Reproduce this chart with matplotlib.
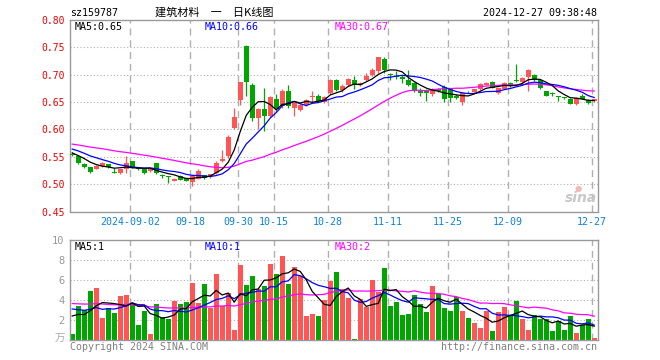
import numpy as np
import matplotlib
matplotlib.use('Agg')
import matplotlib.pyplot as plt

# ---------------- data ----------------
open_ = [0.556, 0.551, 0.536, 0.531, 0.528, 0.533, 0.536, 0.522, 0.520, 0.527,
         0.542, 0.530, 0.528, 0.524, 0.538, 0.516, 0.514, 0.506, 0.515, 0.511,
         0.504, 0.510, 0.516, 0.514, 0.521, 0.543, 0.551, 0.603, 0.653, 0.753,
         0.682, 0.621, 0.638, 0.625, 0.655, 0.642, 0.670, 0.639, 0.636, 0.644,
         0.659, 0.662, 0.651, 0.667, 0.690, 0.672, 0.682, 0.690, 0.681, 0.691,
         0.700, 0.706, 0.729, 0.701, 0.698, 0.695, 0.691, 0.685, 0.671, 0.671,
         0.664, 0.673, 0.678, 0.673, 0.662, 0.650, 0.669, 0.669, 0.673, 0.682,
         0.687, 0.667, 0.674, 0.684, 0.690, 0.686, 0.695, 0.700, 0.690, 0.670,
         0.666, 0.660, 0.659, 0.656, 0.647, 0.662, 0.654, 0.652]
high = [0.558, 0.552, 0.538, 0.532, 0.535, 0.540, 0.537, 0.530, 0.528, 0.552,
        0.543, 0.532, 0.529, 0.528, 0.539, 0.518, 0.515, 0.511, 0.516, 0.512,
        0.516, 0.527, 0.517, 0.519, 0.542, 0.562, 0.590, 0.640, 0.687, 0.754,
        0.685, 0.640, 0.676, 0.662, 0.664, 0.673, 0.682, 0.652, 0.646, 0.655,
        0.670, 0.664, 0.661, 0.692, 0.693, 0.683, 0.694, 0.697, 0.686, 0.703,
        0.712, 0.733, 0.733, 0.704, 0.706, 0.700, 0.709, 0.687, 0.676, 0.673,
        0.676, 0.675, 0.682, 0.675, 0.664, 0.668, 0.671, 0.674, 0.684, 0.686,
        0.689, 0.676, 0.686, 0.686, 0.720, 0.696, 0.711, 0.701, 0.691, 0.671,
        0.668, 0.661, 0.660, 0.657, 0.659, 0.664, 0.655, 0.656]
low = [0.551, 0.536, 0.529, 0.521, 0.527, 0.532, 0.529, 0.521, 0.518, 0.521,
       0.530, 0.525, 0.519, 0.523, 0.519, 0.512, 0.503, 0.505, 0.507, 0.505,
       0.497, 0.509, 0.509, 0.512, 0.519, 0.540, 0.548, 0.600, 0.645, 0.661,
       0.616, 0.600, 0.598, 0.623, 0.633, 0.640, 0.640, 0.624, 0.634, 0.642,
       0.651, 0.650, 0.649, 0.665, 0.670, 0.669, 0.680, 0.673, 0.679, 0.688,
       0.697, 0.704, 0.704, 0.691, 0.692, 0.685, 0.680, 0.668, 0.661, 0.652,
       0.662, 0.669, 0.650, 0.650, 0.656, 0.645, 0.666, 0.668, 0.672, 0.681,
       0.675, 0.665, 0.673, 0.677, 0.687, 0.684, 0.670, 0.689, 0.674, 0.661,
       0.662, 0.652, 0.655, 0.646, 0.645, 0.655, 0.646, 0.651]
close = [0.553, 0.538, 0.532, 0.523, 0.533, 0.538, 0.531, 0.521, 0.527, 0.539,
         0.532, 0.527, 0.521, 0.527, 0.520, 0.515, 0.513, 0.510, 0.508, 0.506,
         0.514, 0.524, 0.511, 0.518, 0.538, 0.546, 0.587, 0.623, 0.686, 0.686,
         0.620, 0.638, 0.625, 0.659, 0.637, 0.670, 0.642, 0.648, 0.644, 0.653,
         0.661, 0.652, 0.659, 0.690, 0.672, 0.680, 0.692, 0.681, 0.684, 0.697,
         0.708, 0.732, 0.708, 0.699, 0.695, 0.692, 0.682, 0.670, 0.667, 0.667,
         0.674, 0.671, 0.655, 0.658, 0.658, 0.667, 0.668, 0.673, 0.683, 0.685,
         0.676, 0.675, 0.684, 0.679, 0.688, 0.694, 0.709, 0.690, 0.676, 0.662,
         0.665, 0.659, 0.657, 0.647, 0.658, 0.656, 0.648, 0.655]
volume = [0.6, 3.4, 3.0, 4.9, 5.2, 2.2, 3.2, 2.7, 4.4, 4.5,
          3.7, 1.5, 2.9, 0.6, 3.6, 2.3, 2.1, 3.9, 3.6, 3.8,
          5.7, 3.7, 5.6, 3.2, 6.6, 3.4, 4.7, 1.0, 7.5, 5.5,
          6.4, 5.1, 5.4, 7.6, 6.6, 8.4, 5.6, 7.3, 6.4, 2.4,
          2.6, 2.4, 4.0, 5.9, 6.8, 5.1, 4.2, 0.1, 4.1, 3.3,
          6.0, 4.8, 7.2, 3.4, 3.8, 2.5, 2.6, 4.5, 3.6, 2.8,
          5.4, 4.6, 3.2, 2.9, 4.3, 2.9, 2.2, 1.7, 1.2, 2.9,
          0.9, 2.8, 3.3, 2.4, 3.9, 2.1, 1.0, 2.5, 2.1, 2.1,
          0.9, 1.9, 1.0, 2.4, 0.7, 1.5, 2.1, 0.2]
# closes / volumes before the visible window (estimated from the MA lines' start)
pre_close = [0.585, 0.588, 0.582, 0.579, 0.583, 0.586, 0.580, 0.576, 0.578, 0.581,
             0.577, 0.574, 0.576, 0.579, 0.575, 0.572, 0.570, 0.574, 0.571, 0.568,
             0.572, 0.575, 0.570, 0.568, 0.571, 0.562, 0.559, 0.556, 0.555]
pre_volume = [4.4, 3.6, 4.8, 4.0, 3.3, 4.6, 3.7, 4.2, 3.4, 4.8,
              3.9, 3.5, 4.1, 3.7, 4.3, 3.2, 3.8, 3.6, 4.0,
              3.5, 4.1, 3.6, 3.9, 3.4, 4.0,
              2.6, 3.1, 2.9, 2.8]
tick_index = [10, 20, 28, 34, 43, 53, 63, 73, 87]
tick_labels = ['2024-09-02', '09-18', '09-30', '10-15', '10-28',
               '11-11', '11-25', '12-09', '12-27']
price_ticks = [0.45, 0.50, 0.55, 0.60, 0.65, 0.70, 0.75, 0.80]
vol_ticks = [2, 4, 6, 8, 10]

# ---------------- helpers ----------------
def moving_avg(pre, vals, n):
    full = np.array(list(pre) + list(vals), dtype=float)
    p = len(pre)
    return np.array([full[p + i - n + 1:p + i + 1].mean() for i in range(len(vals))])

o = np.array(open_); h = np.array(high); l = np.array(low); c = np.array(close)
v = np.array(volume)
x = np.arange(len(c))
up = c >= o
RED = '#ff5555'
GREEN = '#00a600'
cols = np.where(up, RED, GREEN)
MONO = 'DejaVu Sans Mono'
CJK = ['Noto Sans CJK SC', 'DejaVu Sans']
GRID = '#b0b0b0'
FRAME = '#999999'

fig = plt.figure(figsize=(6.6, 3.6), dpi=100)
W, H = 660.0, 360.0
ax = fig.add_axes([70 / W, 1 - 211.5 / H, 527.5 / W, 191.5 / H])
axv = fig.add_axes([70 / W, 1 - 340 / H, 527.5 / W, 100 / H])
xl = (-0.37, 87.55)
grid_x = np.array(tick_index) - 0.33

for a in (ax, axv):
    a.set_xlim(*xl)
    for s in a.spines.values():
        s.set_color(FRAME)
        s.set_linewidth(1.0)
    for gx in grid_x:
        a.axvline(gx, color=GRID, lw=1.0, ls=(0, (5, 3.5)), zorder=0)

# ---- price panel ----
ax.set_ylim(0.45, 0.80)
for gy in price_ticks[1:-1]:
    ax.axhline(gy, color=GRID, lw=0.8, ls=(0, (1, 2)), zorder=0)
ax.vlines(x, l, h, colors=cols, lw=0.9, zorder=2)
body_h = np.abs(c - o)
ax.bar(x, np.maximum(body_h, 0.0012), bottom=np.minimum(o, c), width=0.8,
       color=cols, linewidth=0, zorder=3)
ma5 = moving_avg(pre_close, close, 5)
ma10 = moving_avg(pre_close, close, 10)
ma30 = moving_avg(pre_close, close, 30)
ax.plot(x, ma30, color='#ff00ff', lw=0.9, zorder=4)
ax.plot(x, ma10, color='#0000ff', lw=0.9, zorder=4)
ax.plot(x, ma5, color='black', lw=0.9, zorder=4)

ax.set_yticks(price_ticks)
ax.set_yticklabels([f'{t:.2f}' for t in price_ticks], color='#ee0000',
                   fontsize=7, fontfamily=MONO)
ax.set_xticks(grid_x)
ax.set_xticklabels(tick_labels, color='#0a82dc', fontsize=7.2, fontfamily=MONO)
ax.tick_params(axis='both', length=0)
ax.tick_params(axis='y', pad=4)
ax.tick_params(axis='x', pad=4)

def ftext(px, py, s, **kw):
    fig.text(px / W, 1 - py / H, s, **kw)

ftext(75, 26.5, f'MA5:{ma5[-1]:.2f}', color='black', fontsize=7.2, fontfamily=MONO, va='center')
ftext(205, 26.5, f'MA10:{ma10[-1]:.2f}', color='#0000ff', fontsize=7.2, fontfamily=MONO, va='center')
ftext(335, 26.5, f'MA30:{ma30[-1]:.2f}', color='#ff00ff', fontsize=7.2, fontfamily=MONO, va='center')

# ---- volume panel ----
axv.set_ylim(0, 10)
for gy in vol_ticks[:-1]:
    axv.axhline(gy, color=GRID, lw=0.8, ls=(0, (1, 2)), zorder=0)
axv.bar(x, v, width=0.82, color=cols, linewidth=0, zorder=2)
vma5 = moving_avg(pre_volume, volume, 5)
vma10 = moving_avg(pre_volume, volume, 10)
vma30 = moving_avg(pre_volume, volume, 30)
axv.plot(x, vma30, color='#ff00ff', lw=0.9, zorder=4)
axv.plot(x, vma10, color='#0000ff', lw=0.9, zorder=4)
axv.plot(x, vma5, color='black', lw=0.9, zorder=4)
axv.set_yticks(vol_ticks)
axv.set_yticklabels([str(t) for t in vol_ticks], color='#999999', fontsize=7.5,
                    fontfamily=MONO)
axv.set_xticks([])
axv.tick_params(axis='both', length=0)
axv.tick_params(axis='y', pad=4)

ftext(75, 246.5, f'MA5:{vma5[-1]:.0f}', color='black', fontsize=7.2, fontfamily=MONO, va='center')
ftext(205, 246.5, f'MA10:{vma10[-1]:.0f}', color='#0000ff', fontsize=7.2, fontfamily=MONO, va='center')
ftext(335, 246.5, f'MA30:{vma30[-1]:.0f}', color='#ff00ff', fontsize=7.2, fontfamily=MONO, va='center')
ftext(65, 339, '万', color='#aaaaaa', fontsize=7.5, ha='right', va='center', family=CJK)

# ---- header / footer ----
ftext(70, 13, 'sz159787', color='black', fontsize=7.2, fontfamily=MONO, va='center')
ftext(214, 12.5, '建筑材料\u3000一\u3000日K线图', color='black', fontsize=8, ha='center',
      va='center', family=CJK)
ftext(597, 12.5, '2024-12-27 09:38:48', color='black', fontsize=7.2, fontfamily=MONO,
      ha='right', va='center')
ftext(70, 346.5, 'Copyright 2024 SINA.COM', color='#808080', fontsize=7.2, fontfamily=MONO,
      va='center')
ftext(597, 346.5, 'http://finance.sina.com.cn', color='#808080', fontsize=7.2, fontfamily=MONO,
      ha='right', va='center')
ftext(581, 198, 'sina', color='#c8c8c8', fontsize=10, fontstyle='italic', fontweight='bold',
      ha='center', va='center', family='DejaVu Sans')
ftext(578, 188, '●', color='#f4b8b8', fontsize=6, ha='center', va='center', family='DejaVu Sans')

fig.savefig('out.png', dpi=100)
